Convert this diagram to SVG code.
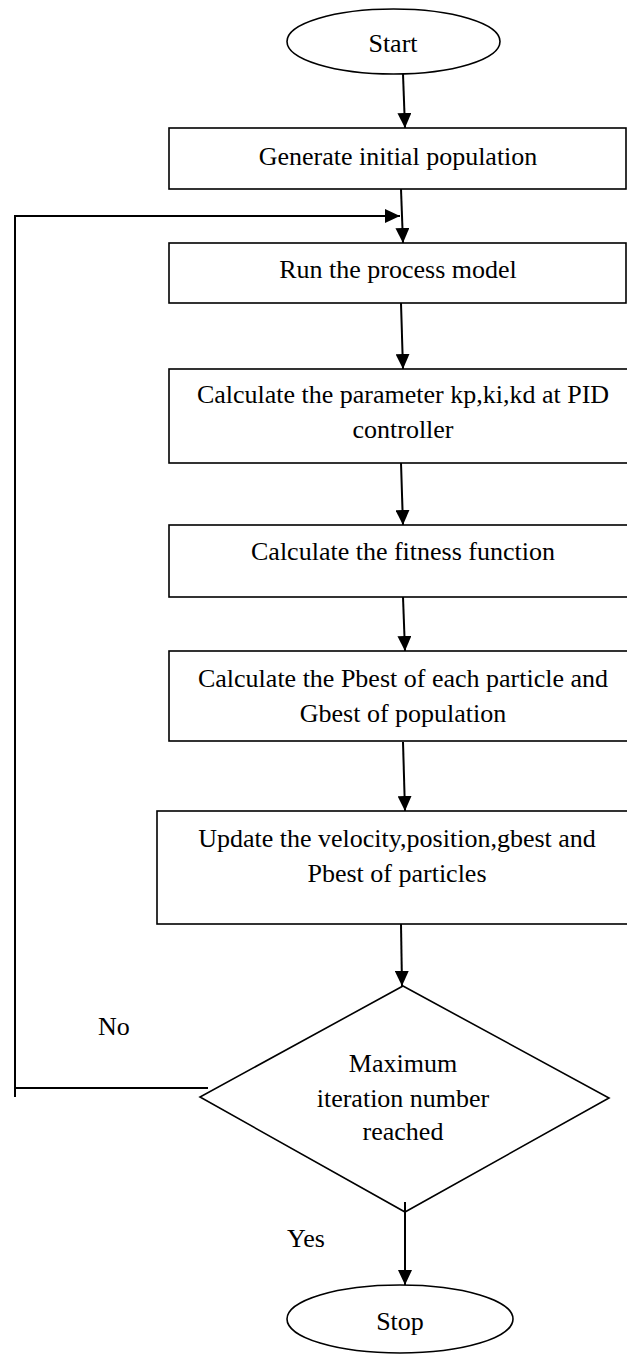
<svg xmlns="http://www.w3.org/2000/svg" width="627" height="1355" viewBox="0 0 627 1355">
<style>
.n{fill:#fff;stroke:#000;stroke-width:1.6}
.c{fill:none;stroke:#000;stroke-width:2}
text{font-family:"Liberation Serif","Times New Roman",serif;font-size:26px;fill:#000;text-anchor:middle}
text.l{text-anchor:start}
</style>
<defs>
<marker id="ah" viewBox="0 0 10 10" refX="10" refY="5" markerUnits="userSpaceOnUse" markerWidth="15" markerHeight="14" preserveAspectRatio="none" orient="auto">
<path d="M0,0 L10,5 L0,10 z" fill="#000"/>
</marker>
</defs>
<rect width="627" height="1355" fill="#fff"/>
<g id="start">
<ellipse class="n" cx="393.5" cy="41.5" rx="106.5" ry="32.5"/>
<text x="393" y="52">Start</text>
</g>
<g id="generate">
<rect class="n" x="169" y="128" width="457" height="61"/>
<text x="398" y="165">Generate initial population</text>
</g>
<g id="run">
<rect class="n" x="169" y="243" width="457" height="60"/>
<text x="398" y="278">Run the process model</text>
</g>
<g id="param">
<rect class="n" x="169" y="369" width="470" height="94"/>
<text x="403" y="403">Calculate the parameter kp,ki,kd at PID</text>
<text x="403" y="438">controller</text>
</g>
<g id="fitness">
<rect class="n" x="169" y="525" width="470" height="72"/>
<text x="403" y="560">Calculate the fitness function</text>
</g>
<g id="pbest">
<rect class="n" x="169" y="651" width="470" height="90"/>
<text x="403" y="687">Calculate the Pbest of each particle and</text>
<text x="403" y="722">Gbest of population</text>
</g>
<g id="update">
<rect class="n" x="157" y="811" width="482" height="113"/>
<text x="397" y="847">Update the velocity,position,gbest and</text>
<text x="397" y="882">Pbest of particles</text>
</g>
<g id="decision">
<polygon class="n" points="403,986 609,1098 405,1212 200,1097"/>
<text x="403" y="1072">Maximum</text>
<text x="403" y="1107">iteration number</text>
<text x="403" y="1140">reached</text>
</g>
<g id="stop">
<ellipse class="n" cx="400" cy="1319" rx="113" ry="34"/>
<text x="400" y="1330">Stop</text>
</g>
<g id="connectors">
<line class="c" x1="403" y1="74" x2="405" y2="128" marker-end="url(#ah)"/>
<line class="c" x1="401" y1="189" x2="403" y2="243" marker-end="url(#ah)"/>
<line class="c" x1="401" y1="303" x2="403" y2="369" marker-end="url(#ah)"/>
<line class="c" x1="401" y1="463" x2="403" y2="525" marker-end="url(#ah)"/>
<line class="c" x1="403" y1="597" x2="405" y2="651" marker-end="url(#ah)"/>
<line class="c" x1="403" y1="742" x2="405" y2="811" marker-end="url(#ah)"/>
<line class="c" x1="401" y1="924" x2="402" y2="986" marker-end="url(#ah)"/>
<line class="c" x1="405" y1="1202" x2="405" y2="1285" marker-end="url(#ah)"/>
<line class="c" x1="15" y1="1097" x2="15" y2="215"/>
<polyline class="c" points="208,1088 15,1088"/>
<line class="c" x1="14" y1="216" x2="400" y2="216" marker-end="url(#ah)"/>
<text class="l" x="98" y="1035">No</text>
<text class="l" x="287" y="1247">Yes</text>
</g>
</svg>
